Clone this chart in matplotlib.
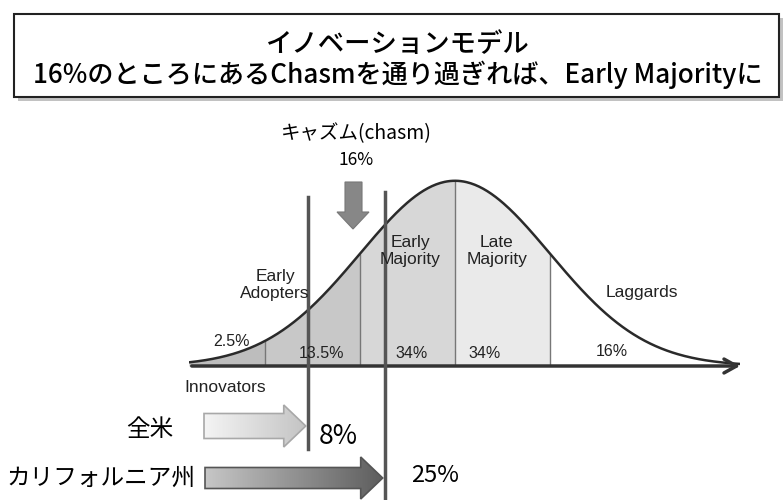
import numpy as np
import matplotlib.pyplot as plt
from matplotlib.patches import Rectangle, Polygon
from matplotlib.colors import LinearSegmentedColormap
from matplotlib.transforms import blended_transform_factory

plt.rcParams['font.family'] = ['Noto Sans CJK JP', 'DejaVu Sans']

# --- data ---
title_lines = ["イノベーションモデル",
               "16%のところにあるChasmを通り過ぎれば、Early Majorityに"]
segment_names = ["Innovators", "Early\nAdopters", "Early\nMajority", "Late\nMajority", "Laggards"]
segment_shares = ["2.5%", "13.5%", "34%", "34%", "16%"]
segment_edges = [-2.8, -2.0, -1.0, 0.0, 1.0, 3.0]  # standard deviations
segment_colors = ["#bdbdbd", "#c8c8c8", "#d7d7d7", "#eaeaea", "#ffffff"]
chasm_label = "キャズム(chasm)"
chasm_share = "16%"
region_names = ["全米", "カリフォルニア州"]
region_shares = ["8%", "25%"]
region_reach = [-1.55, -0.74]  # where each market stands on the curve (sigma)


def pdf(s):
    return np.exp(-s ** 2 / 2) / np.sqrt(2 * np.pi)


def gradient_arrow(ax, x0, x1, yc, shaft_h, head_h, head_l, c0, c1, edge):
    pts = [(x0, yc - shaft_h / 2), (x1 - head_l, yc - shaft_h / 2), (x1 - head_l, yc - head_h / 2),
           (x1, yc), (x1 - head_l, yc + head_h / 2), (x1 - head_l, yc + shaft_h / 2), (x0, yc + shaft_h / 2)]
    poly = Polygon(pts, closed=True, facecolor="none", edgecolor=edge, lw=1.2, zorder=3)
    ax.add_patch(poly)
    cmap = LinearSegmentedColormap.from_list("g", [c0, c1])
    im = ax.imshow(np.linspace(0, 1, 100).reshape(1, -1), cmap=cmap, aspect="auto",
                   extent=[x0, x1, yc + head_h / 2, yc - head_h / 2], zorder=2)
    im.set_clip_path(poly)


fig = plt.figure(figsize=(7.84, 5.0), dpi=100)
ax = fig.add_axes([0, 0, 1, 1])
ax.axis("off")

# curve axes: 1 sigma = 95 px, mean at x=455 px, baseline at y=366 px
ax_c = fig.add_axes([189 / 784, (500 - 366) / 500, 551 / 784, 195 / 500])
ax_c.set_xlim(-2.8, 3.0)
ax_c.set_ylim(0, 0.42)
ax_c.axis("off")
ax_c.set_zorder(1)
ax.set_zorder(2)

# title box
ax.add_patch(Rectangle((18, 18), 765, 83, facecolor="#9a9a9a", edgecolor="none", alpha=0.6, zorder=1))
ax.add_patch(Rectangle((14, 14), 765, 83, facecolor="white", edgecolor="#222222", lw=1.5, zorder=2))
ax.text(398, 44, title_lines[0], ha="center", va="center", fontsize=19, fontweight="medium", zorder=3)
ax.text(398, 75, title_lines[1], ha="center", va="center", fontsize=18.8, fontweight="medium", zorder=3)

# bell curve segments
for i in range(len(segment_names)):
    xs = np.linspace(segment_edges[i], segment_edges[i + 1], 100)
    ax_c.fill_between(xs, 0, pdf(xs), color=segment_colors[i], lw=0)
inner = np.array(segment_edges[1:-1])
ax_c.vlines(inner, 0, pdf(inner), color="#777777", lw=1)
xs = np.linspace(segment_edges[0], segment_edges[-1], 400)
ax_c.plot(xs, pdf(xs), color="#2a2a2a", lw=1.8)
ax_c.annotate("", xy=(3.03, 0), xytext=(-2.8, 0), annotation_clip=False,
              arrowprops=dict(arrowstyle="->, head_length=0.9, head_width=0.5", lw=2.5, color="#333333"))

# market lines
trans = blended_transform_factory(ax_c.transData, ax.transData)
line_spans = [(197, 449), (192, 500)]
for s, (top, bottom) in zip(region_reach, line_spans):
    ax_c.plot([s, s], [top, bottom], transform=trans, color="#555555", lw=2.5, clip_on=False, zorder=5)

# segment labels
latin = ["Liberation Sans", "DejaVu Sans"]
name_pos = [(225, 388), (275, 285), (410, 251), (497, 251), (642, 292)]
share_pos = [(232, 341), (322, 353), (412, 353), (485, 353), (612, 351)]
for name, (x, y) in zip(segment_names, name_pos):
    ax.text(x, y, name, ha="center", va="center", fontsize=12.5, family=latin, color="#222222",
            linespacing=1.1, zorder=6)
for share, (x, y) in zip(segment_shares, share_pos):
    ax.text(x, y, share, ha="center", va="center", fontsize=11.5, family=latin, color="#222222", zorder=6)

# chasm marker
ax.text(356, 134, chasm_label, ha="center", va="center", fontsize=14)
ax.text(356, 160, chasm_share, ha="center", va="center", fontsize=12.5)
ax.add_patch(Polygon([(345, 182), (362, 182), (362, 212), (369, 212), (353, 229), (337, 212), (345, 212)],
                     closed=True, facecolor="#878787", edgecolor="#777777", lw=0.8))
ax.set_xlim(0, 784)
ax.set_ylim(500, 0)

# market arrows
inv = ax.transData.inverted()
tips = [inv.transform(ax_c.transData.transform((s, 0)))[0] - 2 for s in region_reach]
gradient_arrow(ax, 204, tips[0], 426, 25, 42, 22, "#f4f4f4", "#c4c4c4", "#a8a8a8")
gradient_arrow(ax, 205, tips[1], 478, 21, 42, 22, "#c6c6c6", "#5e5e5e", "#555555")
ax.set_xlim(0, 784)
ax.set_ylim(500, 0)

ax.text(150, 430, region_names[0], ha="center", va="center", fontsize=17)
ax.text(101, 478, region_names[1], ha="center", va="center", fontsize=17)
ax.text(338, 437, region_shares[0], ha="center", va="center", fontsize=19)
ax.text(435, 476, region_shares[1], ha="center", va="center", fontsize=17)

fig.savefig("out.png", dpi=100)
